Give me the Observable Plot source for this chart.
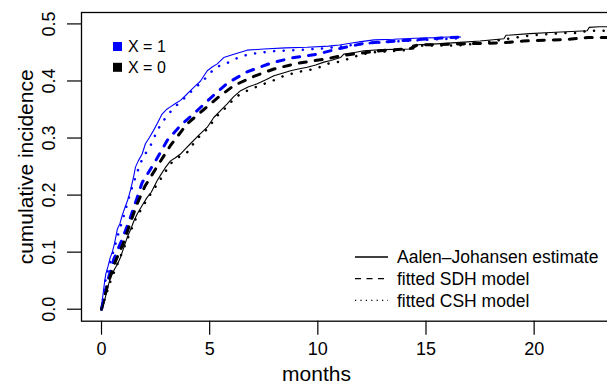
<!DOCTYPE html>
<html><head><meta charset="utf-8">
<script src="https://cdn.jsdelivr.net/npm/d3@7"></script>
<script src="https://cdn.jsdelivr.net/npm/@observablehq/plot@0.6"></script>
<style>
html,body{margin:0;padding:0;background:#fff;overflow:hidden;width:607px;height:389px;}
#chart{position:relative;width:607px;height:389px;overflow:hidden;}
#chart svg{font-family:"Liberation Sans",Arial,Helvetica,sans-serif;display:block;max-width:none !important;}
</style></head><body><div id="chart"></div><script>
// ---- data ----
const xTicks = [0, 5, 10, 15, 20];
const yTicks = [0, 0.1, 0.2, 0.3, 0.4, 0.5];
const groupLabels = ["X = 1", "X = 0"];
const methodLabels = ["Aalen\u2013Johansen estimate", "fitted SDH model", "fitted CSH model"];

// Aalen-Johansen, X = 1
const tAJ1 = [0,0.05,0.1,0.15,0.2,0.3,0.4,0.5,0.6,0.73,0.85,0.96,1.1,1.2,1.35,1.5,1.57,1.7,1.88,2.03,2.2,2.4,2.57,2.8,3.0,3.2,3.4,3.65,3.9,4.11,4.35,4.58,4.75,4.89,5.1,5.35,5.65,6.12,6.73,7.5,8.5,9.5,10.5,11.0,11.5,12.0,12.6,13.5,14.5,15.5,16.0,16.6];
const ajX1 = [0,0.02,0.035,0.05,0.062,0.075,0.09,0.1,0.115,0.14,0.15,0.165,0.18,0.19,0.21,0.235,0.249,0.26,0.272,0.29,0.3,0.313,0.325,0.342,0.35,0.355,0.36,0.366,0.375,0.383,0.392,0.4,0.41,0.418,0.424,0.43,0.441,0.447,0.454,0.456,0.458,0.459,0.461,0.463,0.466,0.469,0.472,0.473,0.475,0.476,0.477,0.477];
// Aalen-Johansen, X = 0
const tAJ0 = [0,0.1,0.18,0.3,0.42,0.6,0.75,0.88,1.0,1.19,1.35,1.5,1.65,1.85,2.11,2.3,2.57,2.73,2.95,3.19,3.4,3.65,3.9,4.11,4.5,4.89,5.19,5.5,5.81,6.1,6.43,6.8,7.2,7.6,7.97,8.4,8.74,9.1,9.51,9.9,10.28,10.6,11.05,11.2,11.7,12.13,13.0,14.29,14.4,15.5,16.76,17.5,18.6,18.7,19.8,20.76,22.45,22.55,23.0,24.2];
const ajX0 = [0,0.01,0.021,0.04,0.056,0.07,0.08,0.091,0.105,0.126,0.14,0.155,0.167,0.18,0.196,0.205,0.225,0.235,0.248,0.26,0.265,0.272,0.282,0.29,0.305,0.319,0.336,0.348,0.36,0.372,0.383,0.39,0.395,0.402,0.409,0.414,0.418,0.421,0.424,0.428,0.433,0.436,0.441,0.447,0.45,0.453,0.455,0.456,0.463,0.465,0.468,0.47,0.474,0.48,0.483,0.485,0.488,0.494,0.495,0.495];
// fitted SDH model, X = 1
const tSDH1 = [0,0.31,0.57,0.96,1.31,1.65,1.88,2.11,2.5,3.04,3.65,4.42,5.04,5.81,6.73,7.81,8.74,9.97,10.9,12.13,13.98,15.2,16.6];
const sdhX1 = [0,0.053,0.088,0.123,0.158,0.196,0.222,0.236,0.26,0.296,0.322,0.348,0.37,0.396,0.416,0.431,0.44,0.447,0.456,0.466,0.471,0.474,0.477];
// fitted SDH model, X = 0
const tSDH0 = [0,0.3,0.6,1.0,1.3,1.65,2.0,2.57,3.19,3.96,4.73,5.35,6.12,7.04,7.97,9.05,10.28,11.2,12.9,14.3,14.6,16.76,18.6,19.5,21.4,22.5,24.2];
const sdhX0 = [0,0.045,0.08,0.115,0.148,0.185,0.215,0.25,0.287,0.325,0.35,0.37,0.392,0.408,0.421,0.431,0.438,0.445,0.453,0.457,0.463,0.465,0.467,0.47,0.4725,0.476,0.476];
// fitted CSH model, X = 1
const tCSH1 = [0,0.2,0.5,0.8,1.0,1.34,1.6,1.9,2.27,2.6,3.0,3.4,3.73,4.1,4.45,4.81,5.27,5.73,6.2,6.81,7.27,7.81,8.89,10.28,11.0,12.0,13.5,15.0,16.6];
const cshX1 = [0,0.055,0.095,0.135,0.16,0.205,0.235,0.265,0.287,0.315,0.338,0.355,0.366,0.38,0.392,0.405,0.424,0.43,0.439,0.447,0.449,0.452,0.454,0.457,0.46,0.465,0.469,0.472,0.475];
// fitted CSH model, X = 0
const tCSH0 = [0,0.42,0.8,1.19,1.6,2.11,2.73,3.19,3.5,3.96,4.4,4.89,5.35,5.8,6.2,6.73,7.3,7.89,8.5,9.35,9.89,10.43,10.9,11.43,11.97,12.5,13.67,14.13,14.83,16.44,17.5,18.8,19.68,20.2,21.37,21.9,22.5,24.2];
const cshX0 = [0,0.05,0.085,0.122,0.16,0.193,0.228,0.255,0.265,0.275,0.298,0.316,0.339,0.355,0.372,0.383,0.392,0.4,0.41,0.418,0.421,0.43,0.433,0.439,0.446,0.45,0.453,0.454,0.462,0.462,0.466,0.474,0.479,0.481,0.484,0.484,0.488,0.488];

// ---- build tables ----
const zip = (ts, vs, g) => ts.map((t, i) => ({t, v: vs[i], g}));
const blue = "#0000ff", black = "#000000";
const AJ = [...zip(tAJ1, ajX1, "X1"), ...zip(tAJ0, ajX0, "X0")];
const SDH = [...zip(tSDH1, sdhX1, "X1"), ...zip(tSDH0, sdhX0, "X0")];
const CSH = [...zip(tCSH1, cshX1, "X1"), ...zip(tCSH0, cshX0, "X0")];
const col = d => d.g === "X1" ? blue : black;

const W = 630, H = 389;
const chart = Plot.plot({
  width: W, height: H,
  marginLeft: 81, marginRight: 5.5, marginTop: 12, marginBottom: 68.3,
  x: {domain: [-0.925, 24.2]},
  y: {domain: [-0.021, 0.52]},
  style: {fontFamily: "'Liberation Sans', Arial, Helvetica, sans-serif", background: "white", color: "black", maxWidth: "none", width: W + "px", height: H + "px"},
  marks: [
    Plot.axisX({ticks: xTicks, tickSize: 14, tickFormat: () => "", label: null, strokeWidth: 1.2}),
    Plot.axisY({ticks: yTicks, tickSize: 14, tickFormat: () => "", label: null, strokeWidth: 1.2}),
    Plot.text(xTicks, {x: d => d, text: d => String(d), frameAnchor: "bottom", lineAnchor: "middle", dy: 28.5, fontSize: 18, fill: "black"}),
    Plot.text(yTicks, {y: d => d, text: d => d.toFixed(1), frameAnchor: "left", textAnchor: "middle", lineAnchor: "middle", dx: -31.8, rotate: -90, fontSize: 18, fill: "black"}),
    Plot.text(["cumulative incidence"], {text: d => d, frameAnchor: "left", textAnchor: "middle", lineAnchor: "middle", dx: -55.5, rotate: -90, fontSize: 21, fill: "black"}),
    Plot.text(["months"], {text: d => d, frameAnchor: "bottom", lineAnchor: "middle", dx: -36.75, dy: 53.5, fontSize: 21, fill: "black"}),
    Plot.line(SDH, {x: "t", y: "v", z: "g", stroke: col, strokeWidth: 3, strokeDasharray: "7,9", strokeLinecap: "round"}),
    Plot.line(CSH, {x: "t", y: "v", z: "g", stroke: col, strokeWidth: 2.5, strokeDasharray: "0.1,9.5", strokeLinecap: "round"}),
    Plot.line(AJ, {x: "t", y: "v", z: "g", stroke: col, strokeWidth: 1.1}),
    Plot.frame({stroke: "black", strokeWidth: 1.3})
  ]
});
document.getElementById("chart").appendChild(chart);

// ---- legends ----
const svg = d3.select(chart);
const gl = svg.append("g").attr("text-anchor", "start");
const gcols = [blue, black];
groupLabels.forEach((lab, i) => {
  const cy = 46.5 + i * 20.8;
  gl.append("rect").attr("x", 113).attr("y", cy - 4.5).attr("width", 9).attr("height", 9).attr("fill", gcols[i]);
  gl.append("text").attr("x", 128).attr("y", cy).attr("dy", "0.35em").attr("font-size", 16).attr("fill", "black").text(lab);
});
const ml = svg.append("g").attr("text-anchor", "start");
const dashes = [null, "6,5.5", "1.2,4.2"];
methodLabels.forEach((lab, i) => {
  const cy = 257 + i * 21.7;
  const ln = ml.append("line").attr("x1", 355).attr("x2", 388).attr("y1", cy).attr("y2", cy).attr("stroke", "black").attr("stroke-width", 1.3);
  if (dashes[i]) ln.attr("stroke-dasharray", dashes[i]);
  ml.append("text").attr("x", 397).attr("y", cy).attr("dy", "0.35em").attr("font-size", 17.5).attr("fill", "black").text(lab);
});
</script></body></html>
